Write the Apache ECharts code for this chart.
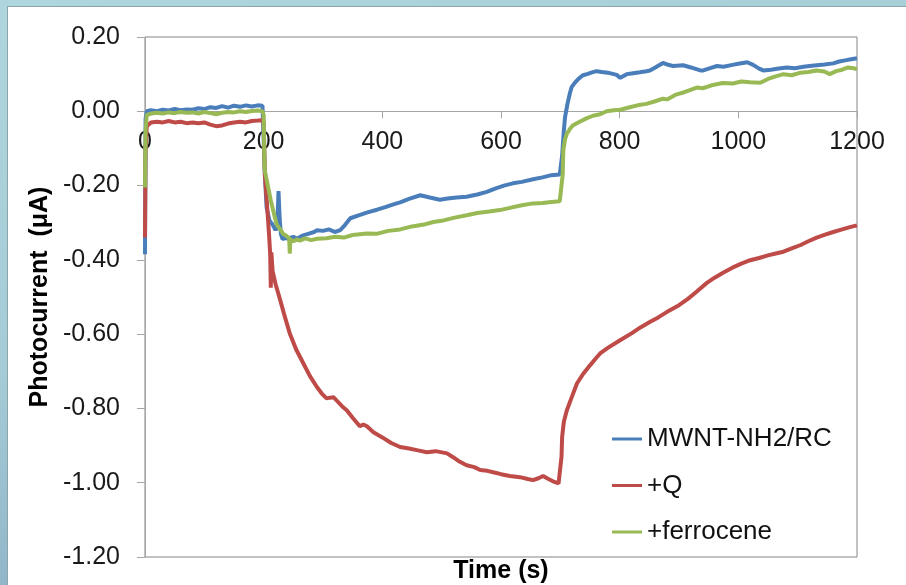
<!DOCTYPE html>
<html>
<head>
<meta charset="utf-8">
<script src="https://cdn.jsdelivr.net/npm/echarts@6/dist/echarts.min.js"></script>
<style>
  html, body { margin:0; padding:0; width:906px; height:585px; overflow:hidden; }
  body { background: linear-gradient(165deg, #afd6de 0%, #a5cbd6 45%, #7c9fbd 100%); position:relative; }
  #card { position:absolute; left:7px; top:6px; width:905px; height:590px; background:#fff; border:1px solid #8fa3ab; }
  #chart { position:absolute; left:0; top:0; width:906px; height:585px; }
</style>
</head>
<body>
<div id="card"></div>
<div id="chart"></div>
<script>
// ---- Data ----
const xTicks = [0, 200, 400, 600, 800, 1000, 1200];
const yTicks = [0.20, 0.00, -0.20, -0.40, -0.60, -0.80, -1.00, -1.20];
const seriesNames = ['MWNT-NH2/RC', '+Q', '+ferrocene'];

const blueT = [0,1,3,10,20,30,40,50,60,70,80,90,100,110,120,130,140,150,160,170,180,190,198,200,
  202,205,210,215,220,223,225,227,229,232,236,240,250,256,265,275,285,290,300,310,320,329,335,346,360,375,391,405,420,430,445,464,480,497,510,525,542,560,576,590,605,620,635,654,670,685,699,
  700,703,706,708,712,716,719,725,731,738,745,752,761,770,780,790,795,801,804,812,820,834,845,851,860,873,880,890,907,920,936,941,950,964,975,990,1000,1015,1025,1035,1042,1055,1068,1082,1095,1110,1120,1132,1145,1160,1170,1180,1190,1200];
const blueV = [-0.385,-0.02,0.0,0.003,0.0,0.004,0.002,0.006,0.003,0.005,0.004,0.008,0.006,0.011,0.009,0.014,0.010,0.015,0.012,0.016,0.013,0.016,0.015,0.012,
  -0.17,-0.26,-0.295,-0.305,-0.32,-0.31,-0.215,-0.29,-0.33,-0.345,-0.34,-0.343,-0.338,-0.343,-0.335,-0.33,-0.325,-0.32,-0.322,-0.318,-0.325,-0.32,-0.31,-0.288,-0.28,-0.272,-0.265,-0.258,-0.25,-0.245,-0.236,-0.226,-0.232,-0.238,-0.235,-0.232,-0.23,-0.224,-0.217,-0.208,-0.2,-0.194,-0.19,-0.183,-0.178,-0.172,-0.17,
  -0.168,-0.12,-0.05,-0.015,0.02,0.048,0.065,0.078,0.088,0.097,0.1,0.104,0.108,0.106,0.104,0.1,0.098,0.09,0.093,0.1,0.102,0.105,0.108,0.11,0.118,0.13,0.126,0.122,0.124,0.118,0.11,0.11,0.115,0.122,0.12,0.125,0.128,0.132,0.125,0.115,0.11,0.112,0.115,0.118,0.116,0.12,0.122,0.124,0.126,0.129,0.134,0.137,0.14,0.143];

const redT = [0,1,3,10,20,30,40,50,60,70,80,90,100,110,120,130,140,150,160,170,180,190,198,200,
  202,206,209,211,212,213,215,220,228,236,244,255,267,278,290,298,306,312,318,325,332,340,350,362,368,374,385,400,415,430,445,460,475,490,509,520,530,542,555,565,577,587,600,615,632,645,654,663,671,680,690,697,
  700,702,703,706,711,718,728,738,750,760,767,780,800,820,835,850,865,880,900,915,930,947,960,975,990,1005,1020,1035,1050,1063,1076,1090,1105,1118,1132,1145,1160,1175,1188,1200];
const redV = [-0.34,-0.1,-0.04,-0.03,-0.028,-0.03,-0.026,-0.03,-0.028,-0.032,-0.03,-0.032,-0.03,-0.036,-0.04,-0.038,-0.033,-0.03,-0.028,-0.03,-0.026,-0.025,-0.024,-0.03,
  -0.17,-0.26,-0.33,-0.385,-0.475,-0.38,-0.43,-0.465,-0.509,-0.555,-0.598,-0.642,-0.679,-0.713,-0.743,-0.76,-0.773,-0.771,-0.77,-0.782,-0.794,-0.805,-0.825,-0.848,-0.843,-0.848,-0.864,-0.878,-0.893,-0.904,-0.908,-0.913,-0.918,-0.915,-0.921,-0.932,-0.943,-0.953,-0.958,-0.966,-0.968,-0.972,-0.977,-0.982,-0.985,-0.99,-0.993,-0.988,-0.982,-0.99,-0.998,-1.002,
  -1.0,-0.93,-0.877,-0.835,-0.805,-0.775,-0.733,-0.708,-0.684,-0.665,-0.652,-0.637,-0.617,-0.598,-0.582,-0.568,-0.555,-0.54,-0.522,-0.505,-0.485,-0.462,-0.448,-0.434,-0.421,-0.41,-0.401,-0.395,-0.388,-0.383,-0.378,-0.369,-0.36,-0.35,-0.34,-0.333,-0.325,-0.318,-0.312,-0.307];

const greenT = [0,1,3,10,20,30,40,50,60,70,80,90,100,110,120,130,140,150,160,170,180,190,198,200,
  201,202,207,212,218,222,228,233,238,243,244,245,250,256,261,270,280,290,306,320,335,350,374,390,410,430,450,470,486,500,520,542,560,580,598,615,635,654,670,685,699,
  702,704,705,708,711,716,721,730,744,755,767,778,790,801,817,830,845,860,873,880,895,910,930,940,955,974,991,1005,1020,1037,1050,1063,1076,1090,1105,1118,1132,1145,1154,1165,1175,1185,1194,1200];
const greenV = [-0.205,-0.05,-0.01,-0.006,-0.004,-0.006,-0.003,-0.005,-0.002,-0.004,-0.003,-0.006,-0.002,-0.005,-0.008,-0.004,-0.002,-0.003,0.0,-0.002,0.001,0.002,0.0,-0.01,
  -0.11,-0.16,-0.2,-0.24,-0.28,-0.305,-0.318,-0.33,-0.335,-0.342,-0.383,-0.345,-0.35,-0.345,-0.348,-0.342,-0.347,-0.343,-0.342,-0.338,-0.34,-0.333,-0.329,-0.33,-0.322,-0.318,-0.31,-0.305,-0.298,-0.295,-0.287,-0.28,-0.274,-0.27,-0.266,-0.26,-0.253,-0.248,-0.247,-0.244,-0.242,
  -0.24,-0.17,-0.105,-0.075,-0.06,-0.048,-0.038,-0.03,-0.019,-0.012,-0.008,0.0,0.003,0.004,0.011,0.016,0.02,0.027,0.034,0.032,0.045,0.052,0.064,0.062,0.07,0.076,0.075,0.08,0.078,0.077,0.087,0.094,0.1,0.097,0.104,0.106,0.11,0.107,0.1,0.108,0.112,0.118,0.116,0.113];

const colors = ['#4a7ebb', '#be4b48', '#98b954'];

function pairs(ts, vs) { return ts.map((t, i) => [t, vs[i]]); }

const FONT = '"Liberation Sans", Arial, sans-serif';
const GRID = { left: 145, right: 49, top: 37, bottom: 28 };
const yMin = -1.2, yMax = 0.2;
const plotH = 585 - GRID.top - GRID.bottom;
// distance from bottom of plot to the zero line (axis crosses at 0)
const zeroOffset = -plotH * (0 - yMin) / (yMax - yMin);

const chart = echarts.init(document.getElementById('chart'), null, { renderer: 'canvas' });

chart.setOption({
  animation: false,
  backgroundColor: 'transparent',
  color: colors,
  textStyle: { fontFamily: FONT },
  grid: Object.assign({ show: true, borderColor: '#858585', borderWidth: 1, backgroundColor: 'transparent' }, GRID),
  xAxis: {
    type: 'value', min: xTicks[0], max: xTicks[xTicks.length - 1], interval: 200,
    position: 'bottom', offset: zeroOffset,
    axisLine: { show: true, onZero: false, lineStyle: { color: '#a6a6a6', width: 1 } },
    axisTick: { show: true, inside: false, length: 7, lineStyle: { color: '#a6a6a6' } },
    axisLabel: { color: '#1a1a1a', fontSize: 25, fontFamily: FONT, margin: 18,
      showMinLabel: true, showMaxLabel: true, formatter: v => String(v) },
    splitLine: { show: false }
  },
  yAxis: {
    type: 'value', min: yMin, max: yMax, interval: 0.2,
    name: 'Photocurrent  (\u03bcA)', nameLocation: 'middle', nameGap: 85,
    nameTextStyle: { fontSize: 25, fontWeight: 'bold', color: '#000', fontFamily: FONT },
    axisLine: { show: true, onZero: false, lineStyle: { color: '#a6a6a6', width: 1 } },
    axisTick: { show: true, inside: false, length: 8, lineStyle: { color: '#a6a6a6' } },
    axisLabel: { color: '#1a1a1a', fontSize: 25, fontFamily: FONT, margin: 25,
      formatter: v => (Math.abs(v) < 1e-9 ? 0 : v).toFixed(2) },
    splitLine: { show: false }
  },
  legend: {
    orient: 'vertical', left: 612, top: 426, itemGap: 20.5, padding: 0,
    icon: 'rect', itemWidth: 30, itemHeight: 3,
    textStyle: { fontSize: 26, color: '#111', fontFamily: FONT },
    data: seriesNames
  },
  graphic: [{
    type: 'text', x: 501, y: 571,
    style: { text: 'Time (s)', font: 'bold 25px ' + FONT, fill: '#000',
      align: 'center', verticalAlign: 'middle', textAlign: 'center', textVerticalAlign: 'middle' }
  }],
  series: [
    { name: seriesNames[0], type: 'line', showSymbol: false, data: pairs(blueT, blueV),
      lineStyle: { width: 4, color: colors[0] } },
    { name: seriesNames[1], type: 'line', showSymbol: false, data: pairs(redT, redV),
      lineStyle: { width: 4, color: colors[1] } },
    { name: seriesNames[2], type: 'line', showSymbol: false, data: pairs(greenT, greenV),
      lineStyle: { width: 4, color: colors[2] } }
  ]
});
</script>
</body>
</html>
